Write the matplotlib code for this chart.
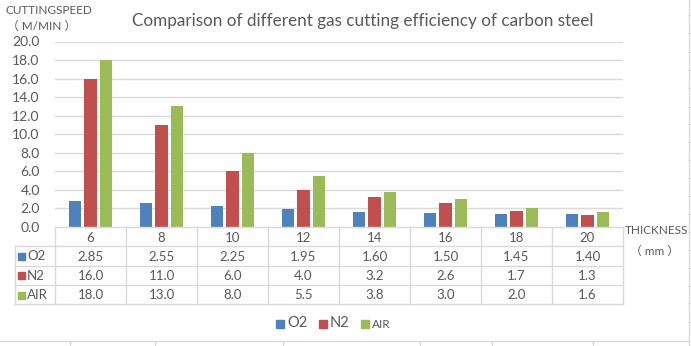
import matplotlib
matplotlib.use("Agg")
import matplotlib.pyplot as plt
from matplotlib.patches import Rectangle
from matplotlib.lines import Line2D

# Data: cutting speed (m/min) by plate thickness (mm)
thickness = ["6", "8", "10", "12", "14", "16", "18", "20"]
series_names = ["O2", "N2", "AIR"]
o2 = [2.85, 2.55, 2.25, 1.95, 1.60, 1.50, 1.45, 1.40]
n2 = [16.0, 11.0, 6.0, 4.0, 3.2, 2.6, 1.7, 1.3]
air = [18.0, 13.0, 8.0, 5.5, 3.8, 3.0, 2.0, 1.6]
o2_labels = ["2.85", "2.55", "2.25", "1.95", "1.60", "1.50", "1.45", "1.40"]
n2_labels = ["16.0", "11.0", "6.0", "4.0", "3.2", "2.6", "1.7", "1.3"]
air_labels = ["18.0", "13.0", "8.0", "5.5", "3.8", "3.0", "2.0", "1.6"]
y_ticks = [0, 2, 4, 6, 8, 10, 12, 14, 16, 18, 20]

colors = ["#4f81bd", "#c0504d", "#9bbb59"]
grid_c = "#d9d9d9"
text_c = "#595959"
FONT = ["Lato", "DejaVu Sans"]
MIXED = ["Lato", "Noto Sans CJK SC", "DejaVu Sans"]
plt.rcParams["font.family"] = FONT

W, H = 691, 346
fig = plt.figure(figsize=(W / 100, H / 100), dpi=100)


def fx(px):
    return px / W


def fy(py):
    return 1 - py / H


# Plot area in pixels
L, R, T, B = 55, 623, 41.5, 227
ax = fig.add_axes([fx(L), fy(B), fx(R) - fx(L), fy(T) - fy(B)])
n = len(thickness)
ax.set_xlim(-0.5, n - 0.5)
ax.set_ylim(0, 20)
for s in ax.spines.values():
    s.set_visible(False)
ax.set_xticks([])
ax.set_yticks(y_ticks)
ax.set_yticklabels([f"{v:.1f}" for v in y_ticks], color=text_c, fontsize=10)
ax.tick_params(axis="y", length=0, pad=11)
for v in y_ticks[1:]:
    ax.axhline(v, color=grid_c, lw=1, zorder=0)

bw = 0.17
step = 0.215
for i, (vals, c) in enumerate(zip([o2, n2, air], colors)):
    xs = [k + (i - 1) * step for k in range(n)]
    ax.bar(xs, vals, width=bw, color=c, zorder=2)

# Data table under the plot
tab_left = 15
tab = fig.add_axes([fx(tab_left), fy(304), fx(R) - fx(tab_left), fy(B) - fy(304)])
x0 = -0.5 - (L - tab_left) / ((R - L) / n)
tab.set_xlim(x0, n - 0.5)
tab.set_ylim(4, 0)
tab.axis("off")
lk = dict(color=grid_c, lw=1, clip_on=False)
tab.plot([-0.5, n - 0.5], [0, 0], **lk)
for r in [1, 2, 3, 4]:
    tab.plot([x0, n - 0.5], [r, r], **lk)
tab.plot([x0, x0], [1, 4], **lk)
for k in range(n + 1):
    tab.plot([k - 0.5, k - 0.5], [0, 4], **lk)
for k, t in enumerate(thickness):
    tab.text(k, 0.55, t, ha="center", va="center", color=text_c, fontsize=9.5)
rows = [o2_labels, n2_labels, air_labels]
for r, (lab_row, name, c) in enumerate(zip(rows, series_names, colors)):
    yc = r + 1.55
    for k, t in enumerate(lab_row):
        tab.text(k, yc, t, ha="center", va="center", color=text_c, fontsize=9.5)
    fig.patches.append(Rectangle((fx(18), fy(246 + r * 19.5 + 13.5)), fx(7), 7 / H,
                                 transform=fig.transFigure, color=c))
    fig.text(fx(27), fy(246 + r * 19.5 + 10), name, ha="left", va="center",
             color=text_c, fontsize=9.5)

# Title and axis captions
fig.text(fx(363), fy(21), "Comparison of different gas cutting efficiency of carbon steel",
         ha="center", va="center", color=text_c, fontsize=12.3)
fig.text(fx(5), fy(10), "CUTTINGSPEED", ha="left", va="center", color=text_c, fontsize=8.5)
fig.text(fx(42), fy(26), "（ M/MIN ）", ha="center", va="center", color=text_c,
         fontsize=8.5, family=MIXED)
fig.text(fx(657), fy(231), "THICKNESS", ha="center", va="center", color=text_c, fontsize=8.5)
fig.text(fx(654), fy(251), "（ mm ）", ha="center", va="center", color=text_c,
         fontsize=8.5, family=MIXED)

# Legend
leg_items = [(276, "O2"), (319, "N2"), (361, "AIR")]
for (px, name), c in zip(leg_items, colors):
    fig.patches.append(Rectangle((fx(px), fy(328)), fx(8), 8 / H,
                                 transform=fig.transFigure, color=c))
    fig.text(fx(px + 11), fy(323 if name != "AIR" else 325), name, ha="left", va="center",
             color=text_c, fontsize=10.5 if name != "AIR" else 8.5)

# Sheet grid visible around the chart frame
gk = dict(color=grid_c, lw=1, transform=fig.transFigure)
fig.lines.append(Line2D([fx(689), fx(689)], [0, 1], **gk))
fig.lines.append(Line2D([0, fx(689)], [fy(341), fy(341)], **gk))
for yy in [15, 33, 52, 70, 88, 107, 124, 142, 160, 178, 196, 214, 232, 250, 268, 286, 303, 322]:
    fig.lines.append(Line2D([fx(689), 1], [fy(yy), fy(yy)], **gk))
for xx in [70, 155, 283, 420, 492, 593]:
    fig.lines.append(Line2D([fx(xx), fx(xx)], [fy(341), 0], **gk))

fig.savefig("out.png", dpi=100, facecolor="white")
